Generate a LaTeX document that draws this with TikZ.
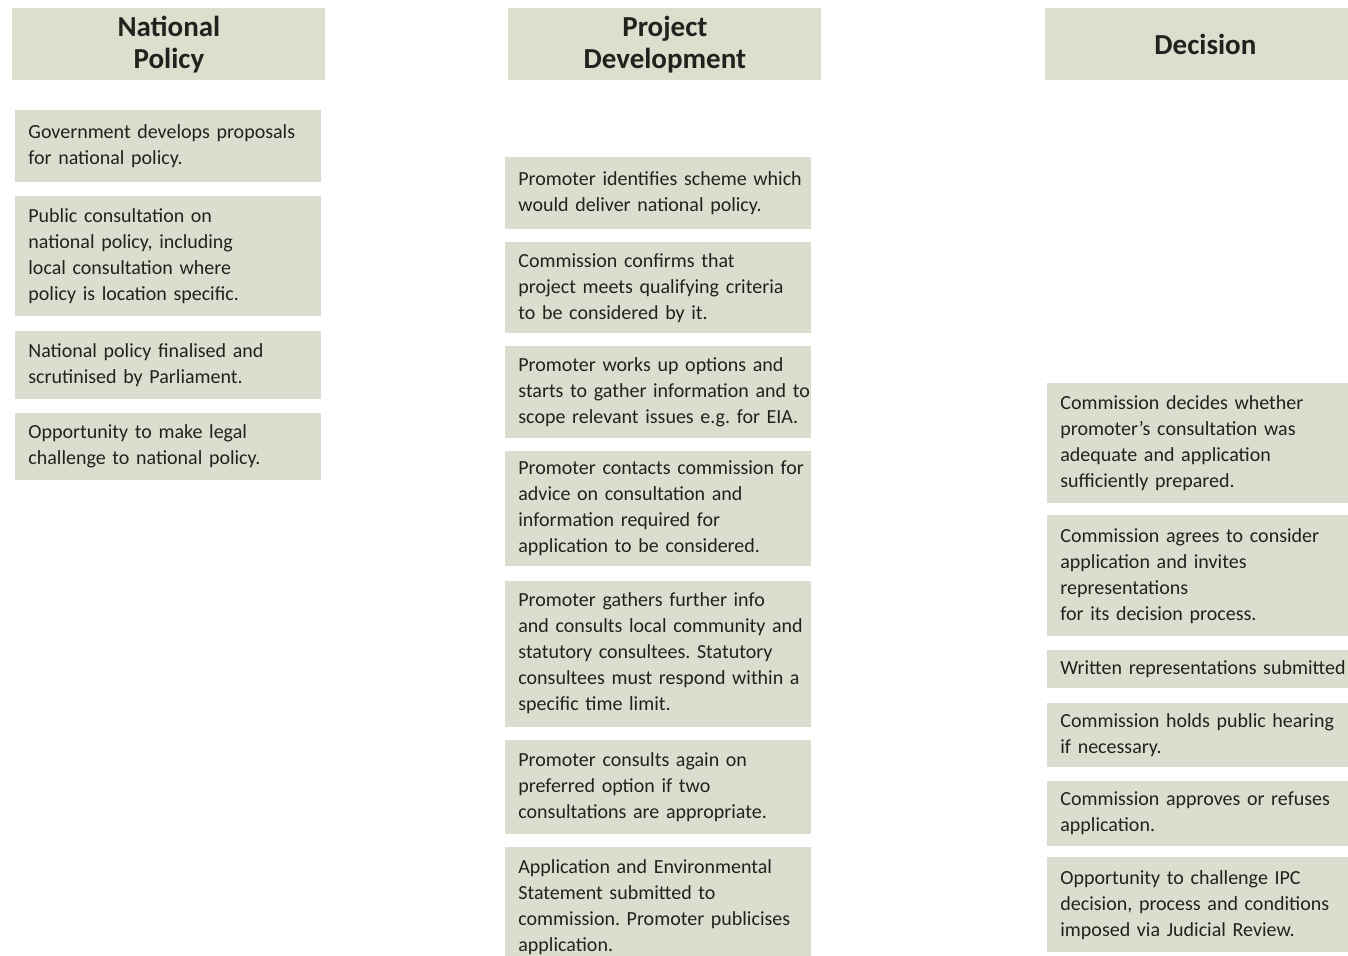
\documentclass[tikz,border=0pt]{standalone}
\usepackage{fontspec}
\setmainfont{Carlito}
\frenchspacing
\usetikzlibrary{positioning}
\definecolor{boxfill}{RGB}{220,221,207}
\definecolor{headfill}{RGB}{219,223,205}
\definecolor{boxtext}{RGB}{32,34,30}
\tikzset{
x=0.5pt, y=0.5pt,
node distance=7pt,
head node/.style={fill=headfill,minimum width=156.5pt,minimum height=36pt,inner sep=0pt,
  align=center,text=boxtext,font=\fontsize{14.5}{16}\selectfont\bfseries,anchor=north west},
step node/.style={fill=boxfill,text width=153pt,inner xsep=0pt,inner ysep=0pt,
  minimum height=#1,align=left,text=boxtext,font=\fontsize{10}{13}\selectfont\frenchspacing,
  execute at begin node={\leftskip=6.5pt}},
step node/.default=36pt}

\begin{document}
\begin{tikzpicture}

\useasboundingbox (0,0) rectangle (1348,-955);
\clip (0,0) rectangle (1348,-955);

\node[head node] (np) at (12,-8) {National\\Policy};
\node[head node] (pd) at (508,-8) {Project\\Development};
\node[head node,minimum width=160pt] (dc) at (1045,-8) {Decision};

\node[step node=36pt,anchor=north west] (np1) at (15,-110)
  {Government develops proposals\\for national policy.};
\node[step node=60pt,below=6.5pt of np1] (np2)
  {Public consultation on\\national policy, including\\local consultation where\\policy is location specific.};
\node[step node=34pt,below=7pt of np2] (np3)
  {National policy finalised and\\scrutinised by Parliament.};
\node[step node=33.5pt,below=6.5pt of np3] (np4)
  {Opportunity to make legal\\challenge to national policy.};

\node[step node=36pt,anchor=north west] (pd1) at (505,-157)
  {Promoter identifies scheme which\\would deliver national policy.};
\node[step node=45.5pt,below=6pt of pd1] (pd2)
  {Commission confirms that\\project meets qualifying criteria\\to be considered by it.};
\node[step node=46pt,below=6pt of pd2] (pd3)
  {Promoter works up options and\\starts to gather information and to\\scope relevant issues e.g. for EIA.};
\node[step node=57.5pt,below=6pt of pd3] (pd4)
  {Promoter contacts commission for\\advice on consultation and\\information required for\\application to be considered.};
\node[step node=73pt,below=7pt of pd4] (pd5)
  {Promoter gathers further info\\and consults local community and\\statutory consultees. Statutory\\consultees must respond within a\\specific time limit.};
\node[step node=47pt,below=6.5pt of pd5] (pd6)
  {Promoter consults again on\\preferred option if two\\consultations are appropriate.};
\node[step node=60pt,below=6pt of pd6] (pd7)
  {Application and Environmental\\Statement submitted to\\commission. Promoter publicises\\application.};

\node[step node=60pt,anchor=north west] (dc1) at (1047,-383)
  {Commission decides whether\\promoter's consultation was\\adequate and application\\sufficiently prepared.};
\node[step node=60.5pt,below=5.5pt of dc1] (dc2)
  {Commission agrees to consider\\application and invites\\representations\\for its decision process.};
\node[step node=19pt,below=6.5pt of dc2] (dc3)
  {Written representations submitted};
\node[step node=32pt,below=7pt of dc3] (dc4)
  {Commission holds public hearing\\if necessary.};
\node[step node=32.5pt,below=6.5pt of dc4] (dc5)
  {Commission approves or refuses\\application.};
\node[step node=47.5pt,below=5.5pt of dc5] (dc6)
  {Opportunity to challenge IPC\\decision, process and conditions\\imposed via Judicial Review.};
\end{tikzpicture}
\end{document}
